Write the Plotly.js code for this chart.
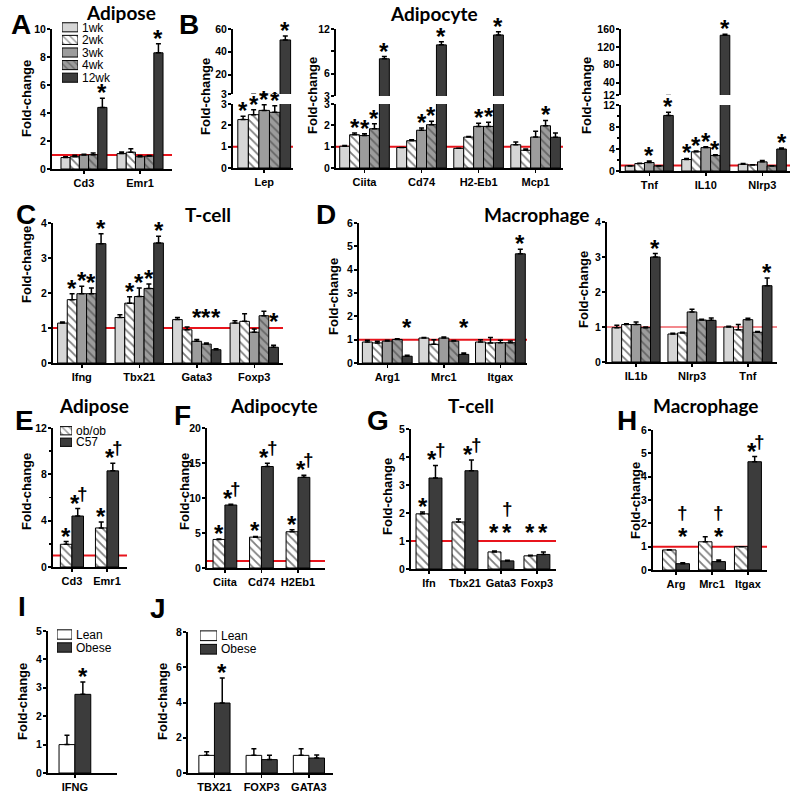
<!DOCTYPE html>
<html><head><meta charset="utf-8">
<script src="https://cdn.plot.ly/plotly-3.0.1.min.js"></script>
<style>html,body{margin:0;padding:0;background:#fff}#chart{width:800px;height:794px}</style>
</head><body><div id="chart"></div><script>
// ---------------- DATA ----------------
const weekSeries = ['1wk','2wk','3wk','4wk','12wk'];
const strainSeries = ['ob/ob','C57'];
const humanSeries = ['Lean','Obese'];

// A: Adipose (rows = series, cols = genes)
const A_genes = ['Cd3','Emr1'];
const A_mean = [[0.82,1.1],[0.88,1.2],[1.0,0.88],[1.02,0.92],[4.4,8.3]];
const A_err  = [[0.06,0.12],[0.1,0.25],[0.06,0.08],[0.12,0.05],[0.65,0.65]];
const A_stars = [[0,4,'*'],[1,4,'*']];

// B: Adipocyte
const B1_genes = ['Lep'];
const B1_mean = [[2.27],[2.5],[2.7],[2.61],[50.4]];
const B1_err  = [[0.15],[0.23],[0.27],[0.31],[3.5]];
const B1_stars = [[0,0,'*'],[0,1,'*'],[0,2,'*'],[0,3,'*'],[0,4,'*']];

const B2_genes = ['Ciita','Cd74','H2-Eb1','Mcp1'];
const B2_mean = [[1.02,0.96,0.92,1.09],[1.56,1.28,1.45,0.83],[1.52,1.77,1.95,1.45],[1.84,2.03,1.95,1.98],[8.0,9.87,11.2,1.44]];
const B2_err  = [[0.04,0.0,0.0,0.13],[0.08,0.05,0.03,0.06],[0.08,0.11,0.15,0.27],[0.24,0.16,0.19,0.25],[0.3,0.43,0.44,0.2]];
const B2_stars = [[0,1,'*'],[0,2,'*'],[0,3,'*'],[0,4,'*'],[1,2,'*'],[1,3,'*'],[1,4,'*'],[2,2,'*'],[2,3,'*'],[2,4,'*'],[3,3,'*']];

const B3_genes = ['Tnf','IL10','Nlrp3'];
const B3_mean = [[0.92,2.09,1.23],[1.35,3.5,1.1],[1.54,4.25,1.66],[0.92,2.83,0.92],[10.1,146,4.0]];
const B3_err  = [[0.05,0.19,0.12],[0.05,0.13,0.05],[0.3,0.18,0.24],[0.05,0.12,0.05],[0.6,2,0.18]];
const B3_stars = [[0,2,'*'],[0,4,'*'],[1,0,'*'],[1,1,'*'],[1,2,'*'],[1,3,'*'],[1,4,'*'],[2,4,'*']];

// C: T-cell
const C_genes = ['Ifng','Tbx21','Gata3','Foxp3'];
const C_mean = [[1.14,1.30,1.24,1.14],[1.81,1.71,0.95,1.19],[1.98,1.90,0.62,0.88],[1.98,2.13,0.54,1.35],[3.41,3.43,0.38,0.45]];
const C_err  = [[0.03,0.08,0.06,0.07],[0.17,0.18,0.08,0.22],[0.21,0.24,0.05,0.09],[0.16,0.13,0.03,0.13],[0.28,0.19,0.03,0.06]];
const C_stars = [[0,1,'*'],[0,2,'*'],[0,3,'*'],[0,4,'*'],[1,1,'*'],[1,2,'*'],[1,3,'*'],[1,4,'*'],[2,2,'*',1.15],[2,3,'*',1.15],[2,4,'*',1.15],[3,4,'*',1.02]];

// D: Macrophage
const D1_genes = ['Arg1','Mrc1','Itgax'];
const D1_mean = [[0.9,1.07,0.9],[0.86,0.8,0.86],[0.94,1.07,0.87],[1.01,0.94,0.87],[0.29,0.37,4.68]];
const D1_err  = [[0.07,0.02,0.1],[0.07,0.2,0.23],[0.03,0.04,0.1],[0.03,0.02,0.07],[0.04,0.06,0.2]];
const D1_stars = [[0,4,'*',1.3],[1,4,'*',1.3],[2,4,'*']];

const D2_genes = ['IL1b','Nlrp3','Tnf'];
const D2_mean = [[0.98,0.8,1.0],[1.07,0.83,0.92],[1.07,1.43,1.21],[0.98,1.2,0.85],[3.0,1.19,2.18]];
const D2_err  = [[0.07,0.02,0.02],[0.02,0.02,0.15],[0.07,0.08,0.04],[0.02,0.02,0.02],[0.1,0.07,0.22]];
const D2_stars = [[0,4,'*'],[2,4,'*']];

// E-H: ob/ob vs C57
const E_genes = ['Cd3','Emr1'];
const E_mean = [[1.96,3.37],[4.4,8.3]];
const E_err  = [[0.24,0.51],[0.65,0.65]];
const E_stars = [[0,0,'*'],[0,1,'*†'],[1,0,'*'],[1,1,'*†']];

const F_genes = ['Ciita','Cd74','H2Eb1'];
const F_mean = [[4.08,4.41,5.18],[9.0,14.5,12.95]];
const F_err  = [[0.05,0.1,0.29],[0.1,0.46,0.29]];
const F_stars = [[0,0,'*'],[0,1,'*†'],[1,0,'*'],[1,1,'*†'],[2,0,'*'],[2,1,'*†']];

const G_genes = ['Ifn','Tbx21','Gata3','Foxp3'];
const G_mean = [[1.97,1.68,0.61,0.47],[3.25,3.51,0.29,0.52]];
const G_err  = [[0.07,0.11,0.03,0.02],[0.45,0.38,0.02,0.09]];
const G_stars = [[0,0,'*'],[0,1,'*†'],[1,1,'*†'],[2,0,'*',1.1],[2,1,'†*',1.1],[3,0,'*',1.1],[3,1,'*',1.1]];

const H_genes = ['Arg','Mrc1','Itgax'];
const H_mean = [[0.86,1.21,1.0],[0.27,0.36,4.64]];
const H_err  = [[0.01,0.22,0.0],[0.04,0.07,0.22]];
const H_stars = [[0,1,'†*',1.22],[1,1,'†*',1.22],[2,1,'*†']];

// I-J: human Lean vs Obese
const I_genes = ['IFNG'];
const I_mean = [[1.0],[2.77]];
const I_err  = [[0.33],[0.43]];
const I_stars = [[0,1,'*']];

const J_genes = ['TBX21','FOXP3','GATA3'];
const J_mean = [[1.0,1.0,1.0],[3.97,0.76,0.85]];
const J_err  = [[0.2,0.37,0.37],[1.42,0.24,0.17]];
const J_stars = [[0,1,'*']];

// ---------------- STYLE ----------------
const W = 800, H = 794;
const px = x => x / W;
const py = y => 1 - y / H;
const FONT = 'Liberation Sans, Arial, sans-serif';
const TFONT = 'Lato, Calibri, sans-serif';
const RED = '#e8141c';
const STYLE = {
  '1wk': {color:'#d6d6d6'},
  '2wk': {color:'#ffffff', hatch:'#000000'},
  '3wk': {color:'#9c9c9c'},
  '4wk': {color:'#9c9c9c', hatch:'#2e2e2e'},
  '12wk': {color:'#3c3c3c'},
  'ob/ob': {color:'#ffffff', hatch:'#000000'},
  'C57': {color:'#3c3c3c'},
  'Lean': {color:'#ffffff'},
  'Obese': {color:'#3c3c3c'}
};

const data = [], annotations = [], shapes = [];
const layout = {
  width: W, height: H, margin: {l:0, r:0, t:0, b:0},
  paper_bgcolor: '#ffffff', plot_bgcolor: 'rgba(0,0,0,0)',
  showlegend: false, barmode: 'group',
  font: {family: FONT, color: '#000'}
};

function axKeys(id) {
  const s = id === 1 ? '' : String(id);
  return {xid: 'x' + s, yid: 'y' + s, xk: 'xaxis' + s, yk: 'yaxis' + s};
}

function addMark(xid, yid, x, y, mark) {
  const base = {xref: xid, yref: yid, x: x, y: y, showarrow: false, yanchor: 'bottom', xanchor: 'center'};
  const starFont = {family: FONT, size: 24, color: '#000', weight: 'bold'};
  const dagFont = {family: FONT, size: 19, color: '#000', weight: 'bold'};
  if (mark === '*') {
    annotations.push(Object.assign({}, base, {text: '*', yshift: -10, font: starFont}));
  } else if (mark === '*†') {
    annotations.push(Object.assign({}, base, {text: '*', yshift: -10, xshift: -3, font: starFont}));
    annotations.push(Object.assign({}, base, {text: '†', yshift: 3, xshift: 5, font: dagFont}));
  } else if (mark === '†*') {
    annotations.push(Object.assign({}, base, {text: '*', yshift: -10, font: starFont}));
    annotations.push(Object.assign({}, base, {text: '†', yshift: 17, font: dagFont}));
  }
}

function panel(p) {
  const {xid, yid, xk, yk} = axKeys(p.id);
  const [x0, x1, yt, yb] = p.box;
  const showX = p.showX !== false;
  layout[xk] = {
    domain: [px(x0), px(x1)], anchor: yid, type: 'category', range: p.xRange,
    showline: showX, linecolor: '#000', linewidth: 2,
    ticks: showX ? 'outside' : '', ticklen: 3, tickwidth: 1.5, tickcolor: '#000',
    showticklabels: showX, tickfont: {family: FONT, size: 11, color: '#000', weight: 'bold'},
    showgrid: false, zeroline: false, fixedrange: true
  };
  const ya = {
    domain: [py(yb), py(yt)], anchor: xid, range: p.yRange,
    showline: true, linecolor: '#000', linewidth: 2,
    ticks: 'outside', ticklen: 3, tickwidth: 2, tickcolor: '#000', ticklabelstandoff: -1,
    tickfont: {family: FONT, size: 10.5, color: '#000', weight: 'bold'},
    showgrid: false, zeroline: false, fixedrange: true
  };
  if (p.tickvals) { ya.tickmode = 'array'; ya.tickvals = p.tickvals; ya.ticktext = p.ticktext || p.tickvals.map(String); }
  else { ya.dtick = p.dtick; ya.tick0 = 0; }
  if (p.minor) ya.minor = {dtick: p.minor, tick0: 0, ticks: 'outside', ticklen: 2, tickwidth: 1.5, tickcolor: '#000'};
  layout[yk] = ya;

  const n = p.series.length, w = p.groupFrac / n;
  p.series.forEach((s, k) => {
    const st = STYLE[s];
    const marker = {color: st.color, line: {color: '#000', width: 1}};
    if (st.hatch) marker.pattern = {shape: '\\', fgcolor: st.hatch, bgcolor: st.color, size: 6, solidity: 0.3, fillmode: 'overlay'};
    data.push({
      type: 'bar', name: s, x: p.cats, y: p.mean[k], xaxis: xid, yaxis: yid,
      width: w, offset: -p.groupFrac / 2 + k * w, marker: marker,
      error_y: {type: 'data', symmetric: false, array: p.err[k], arrayminus: p.err[k].map(() => 0),
                color: '#000', thickness: 1.5, width: 2.5},
      hoverinfo: 'skip', showlegend: false
    });
  });
  if (p.red) shapes.push({type: 'line', xref: xid + ' domain', yref: yid, x0: 0, x1: 1, y0: 1, y1: 1,
                          line: {color: RED, width: p.red}, layer: 'below'});
  (p.stars || []).forEach(st => {
    const [g, k, mark, yl] = st;
    const top = yl !== undefined ? yl : p.mean[k][g] + p.err[k][g];
    if (top < p.yRange[0] || top > (p.starMax !== undefined ? p.starMax : Infinity)) return;
    addMark(xid, yid, g - p.groupFrac / 2 + (k + 0.5) * w, top, mark);
  });
}

function legendBox(id, series, box, fsize) {
  const {xid, yid, xk, yk} = axKeys(id);
  const [x0, x1, yt, yb] = box;
  layout[xk] = {domain: [px(x0), px(x1)], anchor: yid, range: [0, 1], visible: false, fixedrange: true};
  layout[yk] = {domain: [py(yb), py(yt)], anchor: xid, type: 'category', range: [series.length - 0.5, -0.5],
                tickmode: 'array', tickvals: series, ticktext: series,
                side: 'right', showline: false, ticks: '', showgrid: false, zeroline: false, fixedrange: true,
                ticklabelstandoff: 3, tickfont: {family: FONT, size: fsize, color: '#000'}};
  data.push({
    type: 'bar', orientation: 'h', y: series, x: series.map(() => 1), xaxis: xid, yaxis: yid, width: 0.72,
    marker: {color: series.map(s => STYLE[s].color), line: {color: '#000', width: 1},
             pattern: {shape: series.map(s => STYLE[s].hatch ? '\\' : ''),
                       fgcolor: series.map(s => STYLE[s].hatch || '#000'),
                       bgcolor: series.map(s => STYLE[s].color), size: 5, solidity: 0.3, fillmode: 'overlay'}},
    hoverinfo: 'skip', showlegend: false
  });
}

// ---------------- PANELS ----------------
panel({id: 1, box: [52,172,29,169], xRange: [-0.57,1.57], yRange: [0,10], dtick: 2, groupFrac: 0.82,
       cats: A_genes, series: weekSeries, mean: A_mean, err: A_err, stars: A_stars, red: 2});
panel({id: 2, box: [233,293,104,168], xRange: [-0.52,0.48], yRange: [0,3], tickvals: [0,1,2,3], groupFrac: 0.88,
       cats: B1_genes, series: weekSeries, mean: B1_mean, err: B1_err, stars: B1_stars, starMax: 3, red: 2});
panel({id: 3, box: [233,293,29,94], xRange: [-0.52,0.48], yRange: [3,60], tickvals: [3,20,40,60], groupFrac: 0.88, showX: false,
       cats: B1_genes, series: weekSeries, mean: B1_mean, err: B1_err, stars: B1_stars});
panel({id: 4, box: [336,563,104,168], xRange: [-0.5,3.48], yRange: [0,3], tickvals: [0,1,2,3], groupFrac: 0.87,
       cats: B2_genes, series: weekSeries, mean: B2_mean, err: B2_err, stars: B2_stars, starMax: 3, red: 2});
panel({id: 5, box: [336,563,29,96], xRange: [-0.5,3.48], yRange: [3,12], tickvals: [3,6,9,12], ticktext: ['3','6','','12'], groupFrac: 0.87, showX: false,
       cats: B2_genes, series: weekSeries, mean: B2_mean, err: B2_err, stars: B2_stars});
panel({id: 6, box: [621,790,105,171], xRange: [-0.5,2.49], yRange: [0,12], tickvals: [0,4,8,12], minor: 2, groupFrac: 0.85,
       cats: B3_genes, series: weekSeries, mean: B3_mean, err: B3_err, stars: B3_stars, starMax: 12, red: 2});
panel({id: 7, box: [621,790,29,95], xRange: [-0.5,2.49], yRange: [12,160], tickvals: [12,40,80,120,160], groupFrac: 0.85, showX: false,
       cats: B3_genes, series: weekSeries, mean: B3_mean, err: B3_err, stars: B3_stars});
panel({id: 8, box: [53,283,223,363], xRange: [-0.5,3.5], yRange: [0,4], dtick: 1, groupFrac: 0.84,
       cats: C_genes, series: weekSeries, mean: C_mean, err: C_err, stars: C_stars, red: 2});
panel({id: 9, box: [359,527,223,363], xRange: [-0.5,2.47], yRange: [0,6], dtick: 1, groupFrac: 0.88,
       cats: D1_genes, series: weekSeries, mean: D1_mean, err: D1_err, stars: D1_stars, red: 2});
panel({id: 10, box: [607,777,222,362], xRange: [-0.52,2.52], yRange: [0,4], dtick: 1, groupFrac: 0.86,
       cats: D2_genes, series: weekSeries, mean: D2_mean, err: D2_err, stars: D2_stars, red: 1.2});
panel({id: 11, box: [53,127,428,567], xRange: [-0.54,1.57], yRange: [0,12], tickvals: [0,4,8,12], minor: 2, groupFrac: 0.66,
       cats: E_genes, series: strainSeries, mean: E_mean, err: E_err, stars: E_stars, red: 2});
panel({id: 12, box: [207,325,428,568], xRange: [-0.49,2.74], yRange: [0,20], dtick: 5, groupFrac: 0.65,
       cats: F_genes, series: strainSeries, mean: F_mean, err: F_err, stars: F_stars, red: 2});
panel({id: 13, box: [411,556,429,569], xRange: [-0.5,3.53], yRange: [0,5], dtick: 1, groupFrac: 0.72,
       cats: G_genes, series: strainSeries, mean: G_mean, err: G_err, stars: G_stars, red: 2});
panel({id: 14, box: [653,767,430,570], xRange: [-0.64,2.53], yRange: [0,6], dtick: 1, groupFrac: 0.75,
       cats: H_genes, series: strainSeries, mean: H_mean, err: H_err, stars: H_stars, red: 2});
panel({id: 15, box: [48,117,631,773], xRange: [-0.39,0.61], yRange: [0,5], dtick: 1, groupFrac: 0.46,
       cats: I_genes, series: humanSeries, mean: I_mean, err: I_err, stars: I_stars});
panel({id: 16, box: [188,333,632,773], xRange: [-0.56,2.51], yRange: [0,8], dtick: 2, groupFrac: 0.66,
       cats: J_genes, series: humanSeries, mean: J_mean, err: J_err, stars: J_stars});

legendBox(17, weekSeries, [62,78,21,84], 12);
legendBox(18, strainSeries, [60,72,425,448], 12);
legendBox(19, humanSeries, [57,72,628,654], 12);
legendBox(20, humanSeries, [200,217,629,656], 12);

// ---------------- TEXT ----------------
function paperText(text, x, y, font, extra) {
  annotations.push(Object.assign({xref: 'paper', yref: 'paper', x: px(x), y: py(y), text: text, showarrow: false,
                                  xanchor: 'center', yanchor: 'middle', borderpad: 0, font: font}, extra || {}));
}
const letterFont = {family: FONT, size: 28, color: '#000', weight: 'bold'};
[['A',21,25],['B',189,25],['C',26,215],['D',326,215],['E',24,421],['F',182,415],['G',378,420],['H',627,420],['I',22,606],['J',158,608]]
  .forEach(([t,x,y]) => paperText(t, x, y, letterFont));
const titleFont = {family: TFONT, size: 19, color: '#000', weight: 'bold'};
[['Adipose',121,13],['Adipocyte',434,14],['T-cell',208,215],['Macrophage',536,215],
 ['Adipose',94,405],['Adipocyte',274,405],['T-cell',471,405],['Macrophage',705,405]]
  .forEach(([t,x,y]) => paperText(t, x, y, titleFont));
const ytFont = {family: FONT, size: 13, color: '#000', weight: 'bold'};
[[26,99],[205,96],[312,96],[586,96],[26,265],[333,297],[583,290],[26,492],[184,492],[388,497],[635,501],[22,702],[162,702]]
  .forEach(([x,y]) => paperText('Fold-change', x, y, ytFont, {textangle: -90}));

layout.annotations = annotations;
layout.shapes = shapes;
Plotly.newPlot('chart', data, layout, {staticPlot: true, displayModeBar: false});
</script></body></html>
